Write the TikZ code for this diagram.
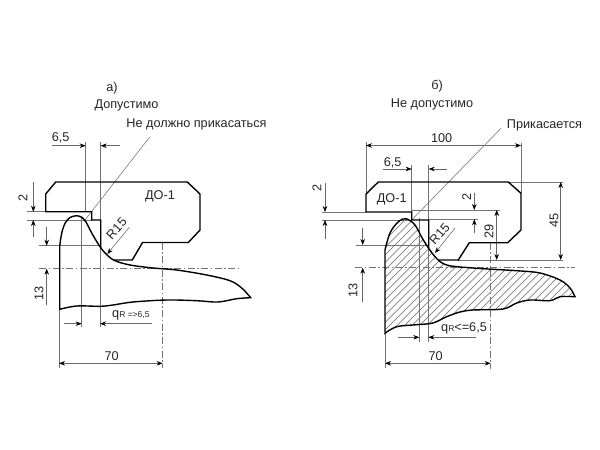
\documentclass[tikz,border=0pt]{standalone}
\usepackage{fontspec}
\setmainfont{Liberation Sans}
\usetikzlibrary{arrows.meta}
\tikzset{
  x=1pt,y=-1pt,
  body/.style={draw=black,line width=1.4pt,line join=miter},
  thin line/.style={draw=black!55,line width=.55pt},
  dimline/.style={draw=black!60,line width=.55pt},
  axis line/.style={draw=black!55,line width=.6pt,dash pattern=on 7pt off 2.5pt on 1.5pt off 2.5pt},
  tipend/.style={-{Stealth[length=6pt,width=4.5pt,black]}},
  tipboth/.style={{Stealth[length=6pt,width=4.5pt,black]}-{Stealth[length=6pt,width=4.5pt,black]}},
  hatchline/.style={draw=black!60,line width=.45pt},
  lab/.style={inner sep=0pt,font=\fontsize{12.7}{14}\selectfont,text=black!85},
}
\begin{document}
\begin{tikzpicture}
\useasboundingbox (0,0) rectangle (600,450);
\fill[white] (0,0) rectangle (600,450);

% ---------- left figure: thin lines
\draw[thin line] (85.7,141.7) -- (85.7,211.7);
\draw[thin line] (100.7,141.7) -- (100.7,220);
\draw[thin line] (81.7,216) -- (81.7,327);
\draw[thin line] (100,246) -- (100,327);
\draw[thin line] (27,211.7) -- (45.7,211.7);
\draw[thin line] (27,220) -- (91.7,220);
\draw[thin line] (39,245.7) -- (100,245.7);
\draw[axis line] (39,268.7) -- (240,268.7);
\draw[axis line] (162.7,242.7) -- (162.7,368);
\draw[thin line] (59,309) -- (59,368);
\draw[dimline,tipend] (52,145.7) -- (85.7,145.7);
\draw[dimline,tipend] (120,145.7) -- (100.7,145.7);
\draw[dimline,tipend] (33.3,181.7) -- (33.3,211.7);
\draw[dimline,tipend] (33.3,236.7) -- (33.3,220);
\draw[dimline,tipend] (46.7,226.7) -- (46.7,245.7);
\draw[dimline,tipend] (46.7,305) -- (46.7,268.7);
\draw[dimline,tipboth] (59,363.3) -- (162.7,363.3);
\draw[dimline,tipend] (64.3,323.7) -- (81.7,323.7);
\draw[dimline,tipend] (151.7,323.7) -- (100,323.7);
\draw[dimline,tipend] (129.3,227.3) -- (107.3,254);
\draw[thin line] (85,220) -- (150,136.7);

% rail a
\draw[body] (59.7,309.3) -- (59.7,246.7) -- plot[smooth,tension=.55] coordinates {(59.7,246.7) (60.5,240) (62.5,230) (65.5,222.5) (70,217.5) (76.7,215.7) (82,217.5) (86,222) (91.7,233) (100,246.7) (107,255) (115,260.7) (130,265) (153,268) (176.7,270) (206.7,275) (230,280.7) (241.7,288) (250.7,297.7)} -- plot[smooth,tension=.55] coordinates {(250.7,297.7) (236.7,298.7) (218,302) (196.7,300.7) (166.7,300) (133,302) (113,305) (100,306.3) (76.7,306) (59.7,309.3)} -- cycle;
% block a
\draw[body] (100.7,248) -- (100.7,220) -- (91.7,220) -- (91.7,211.7) -- (45.7,211.7) -- (45.7,194) -- (55.7,182) -- (187.3,182) -- (200,194) -- (200,230) -- (188.3,242.5) -- (142.5,242.5) -- (132.3,260) -- (113,260);

\node[lab] (ta) at (112,88) {а)};
\node[lab] (tb) at (126.5,105) {Допустимо};
\node[lab] (tc) at (196.5,124) {Не должно прикасаться};
\node[lab] (td) at (60.7,137.7) {6,5};
\node[lab] (te) at (160,196) {ДО-1};
\node[lab,rotate=90] (tf) at (23,198) {2};
\node[lab,rotate=48] (tg) at (116.5,228.5) {R15};
\node[lab,rotate=90] (th) at (39,293) {13};
\node[lab] (ti) at (111.7,356) {70};
\node[lab,anchor=west] (tj) at (112,315.7) {q\fontsize{8.5}{9}\selectfont R =>6,5};

% ---------- right figure
\begin{scope}
\clip (385,333.3) -- (385,250) -- plot[smooth,tension=.55] coordinates {(385,250) (390,233) (398.3,221.7) (406,218.7) (415,225) (423.3,240) (435,256.7) (446.7,265) (473,268) (516.7,270.7) (540,273) (560,280) (570,288) (575,296.7)} -- plot[smooth,tension=.55] coordinates {(575,296.7) (560,296.7) (550,300.7) (530,300) (516.7,303) (503,309) (473,310) (460,312) (446.7,316.7) (433,323) (416.7,324.7) (396.7,326.7) (385,333.3)} -- cycle;
\foreach \i in {0,1,...,50} {
  \draw[hatchline] ({255+7.5*\i},340) -- ({255+7.5*\i+130},210);
}
\end{scope}

\draw[thin line] (366,141.7) -- (366,194);
\draw[thin line] (521,143) -- (521,193.3);
\draw[thin line] (411.7,165) -- (411.7,212);
\draw[thin line] (428.7,165) -- (428.7,220);
\draw[thin line] (419.3,218) -- (419.3,341.7);
\draw[thin line] (428.3,246) -- (428.3,341.7);
\draw[thin line] (321.7,212) -- (366,212);
\draw[thin line] (321.7,220) -- (411.7,220);
\draw[thin line] (356,245) -- (428,245);
\draw[thin line] (411,210) -- (500,210);
\draw[thin line] (428.7,219.3) -- (478,219.3);
\draw[thin line] (458,260) -- (563,260);
\draw[thin line] (508,182) -- (563,182);
\draw[thin line] (385,333) -- (385,368);
\draw[axis line] (355,267.7) -- (575,267.7);
\draw[axis line] (490.7,242.7) -- (490.7,369);
\draw[dimline,tipboth] (366,145.5) -- (521,145.5);
\draw[dimline,tipend] (383.3,169) -- (411.7,169);
\draw[dimline,tipend] (446.7,169) -- (428.7,169);
\draw[dimline,tipend] (325,183) -- (325,212);
\draw[dimline,tipend] (325,239) -- (325,220);
\draw[dimline,tipend] (362.7,228) -- (362.7,245);
\draw[dimline,tipend] (362.7,301.7) -- (362.7,267.7);
\draw[dimline,tipend] (474.3,192.7) -- (474.3,210);
\draw[dimline,tipend] (474.3,233) -- (474.3,219.3);
\draw[dimline,tipboth] (496.7,210) -- (496.7,260);
\draw[dimline,tipboth] (560.7,182) -- (560.7,260);
\draw[dimline,tipboth] (385,363.3) -- (490.7,363.3);
\draw[dimline,tipend] (398.3,337.3) -- (419.3,337.3);
\draw[dimline,tipend] (476,337.3) -- (428.3,337.3);
\draw[dimline,tipend] (455,228) -- (435,253);
\draw[thin line] (411.7,220) -- (501,128.3);

% rail b
\draw[body] (385,333.3) -- (385,250) -- plot[smooth,tension=.55] coordinates {(385,250) (390,233) (398.3,221.7) (406,218.7) (415,225) (423.3,240) (435,256.7) (446.7,265) (473,268) (516.7,270.7) (540,273) (560,280) (570,288) (575,296.7)} -- plot[smooth,tension=.55] coordinates {(575,296.7) (560,296.7) (550,300.7) (530,300) (516.7,303) (503,309) (473,310) (460,312) (446.7,316.7) (433,323) (416.7,324.7) (396.7,326.7) (385,333.3)} -- cycle;
% block b
\draw[body] (428.7,248) -- (428.7,220) -- (411.7,220) -- (411.7,212) -- (366,212) -- (366,194) -- (378.3,182) -- (508.3,182) -- (521,193.3) -- (521,230) -- (507.7,242.7) -- (469.3,242.7) -- (458.3,260) -- (438,260);

\node[lab] (ua) at (437,86) {б)};
\node[lab,anchor=west] (ub) at (390.7,104) {Не допустимо};
\node[lab,anchor=west] (uc) at (506.7,125) {Прикасается};
\node[lab] (ud) at (441.7,137.7) {100};
\node[lab] (ue) at (392.7,162.7) {6,5};
\node[lab] (uf) at (391.7,199.3) {ДО-1};
\node[lab,rotate=90] (ug) at (317,188) {2};
\node[lab,rotate=90] (uh) at (466.7,197) {2};
\node[lab,rotate=90] (ui) at (489,231.7) {29};
\node[lab,rotate=90] (uj) at (554,220.7) {45};
\node[lab,rotate=48] (uk) at (439.5,234) {R15};
\node[lab,rotate=90] (ul) at (353,290) {13};
\node[lab] (um) at (435.7,356) {70};
\node[lab,anchor=west] (un) at (441,328) {q\fontsize{8.5}{9}\selectfont R\fontsize{12.7}{14}\selectfont <=6,5};
\end{tikzpicture}
\end{document}
